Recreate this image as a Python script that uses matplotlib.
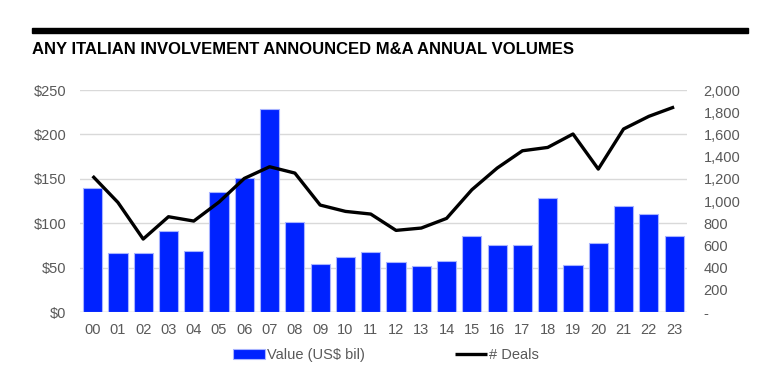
import matplotlib
matplotlib.use("Agg")
import matplotlib.pyplot as plt
from matplotlib.ticker import FuncFormatter

plt.rcParams["font.family"] = ["Liberation Sans", "DejaVu Sans"]

years = ["00", "01", "02", "03", "04", "05", "06", "07", "08", "09", "10", "11",
         "12", "13", "14", "15", "16", "17", "18", "19", "20", "21", "22", "23"]
value_usd_bil = [140, 67, 66, 91, 69, 135, 151, 229, 101, 54, 62, 68,
                 56, 52, 57, 86, 75, 76, 128, 53, 78, 120, 111, 86]
num_deals = [1225, 988, 658, 859, 820, 991, 1204, 1309, 1252, 964, 907, 883,
             736, 757, 844, 1102, 1297, 1453, 1483, 1604, 1288, 1649, 1763, 1847]

title = "ANY ITALIAN INVOLVEMENT ANNOUNCED M&A ANNUAL VOLUMES"
grey = "#595959"

fig = plt.figure(figsize=(7.72, 3.72), dpi=100)
ax = fig.add_axes([0.1036, 0.161, 0.786, 0.597])
ax2 = ax.twinx()

x = list(range(len(years)))
bars = ax.bar(x, value_usd_bil, width=0.76, color="#0022ff",
              edgecolor="#a8b4ff", linewidth=0.8, label="Value (US$ bil)", zorder=2)
line, = ax2.plot(x, num_deals, color="black", linewidth=2.4, label="# Deals",
                 solid_capstyle="butt")

ax.set_xlim(-0.5, 23.5)
ax.set_ylim(0, 250)
ax.set_yticks(range(0, 251, 50))
ax.yaxis.set_major_formatter(FuncFormatter(lambda v, p: f"${v:.0f}"))
ax2.set_ylim(0, 2000)
ax2.set_yticks(range(0, 2001, 200))
ax2.yaxis.set_major_formatter(FuncFormatter(lambda v, p: "-" if v == 0 else f"{v:,.0f}"))

ax.set_xticks(x)
ax.set_xticklabels(years)
ax.grid(axis="y", color="#d9d9d9", linewidth=1, zorder=0)
ax.set_axisbelow(True)

for a in (ax, ax2):
    for s in a.spines.values():
        s.set_visible(False)
    a.tick_params(length=0, labelsize=10.5, labelcolor=grey)
ax.tick_params(axis="y", pad=10)
ax.tick_params(axis="x", pad=8)
ax2.tick_params(axis="y", pad=12)
ax.axhline(0, color="#d9d9d9", linewidth=1, zorder=1)

fig.patches.append(plt.Rectangle((32 / 772, 1 - 33 / 372), 716 / 772, 5 / 372,
                                 transform=fig.transFigure, color="black"))
fig.text(32 / 772, 1 - 50 / 372, title, fontsize=12, fontweight="bold",
         va="center", ha="left")

fig.legend([bars, line], ["Value (US$ bil)", "# Deals"], loc="center",
           bbox_to_anchor=(0.5, 1 - 355 / 372), ncol=2, frameon=False,
           fontsize=10.5, labelcolor=grey, columnspacing=6.2, handlelength=2.2,
           handletextpad=0.1)

fig.savefig("out.png", dpi=100, facecolor="white")
